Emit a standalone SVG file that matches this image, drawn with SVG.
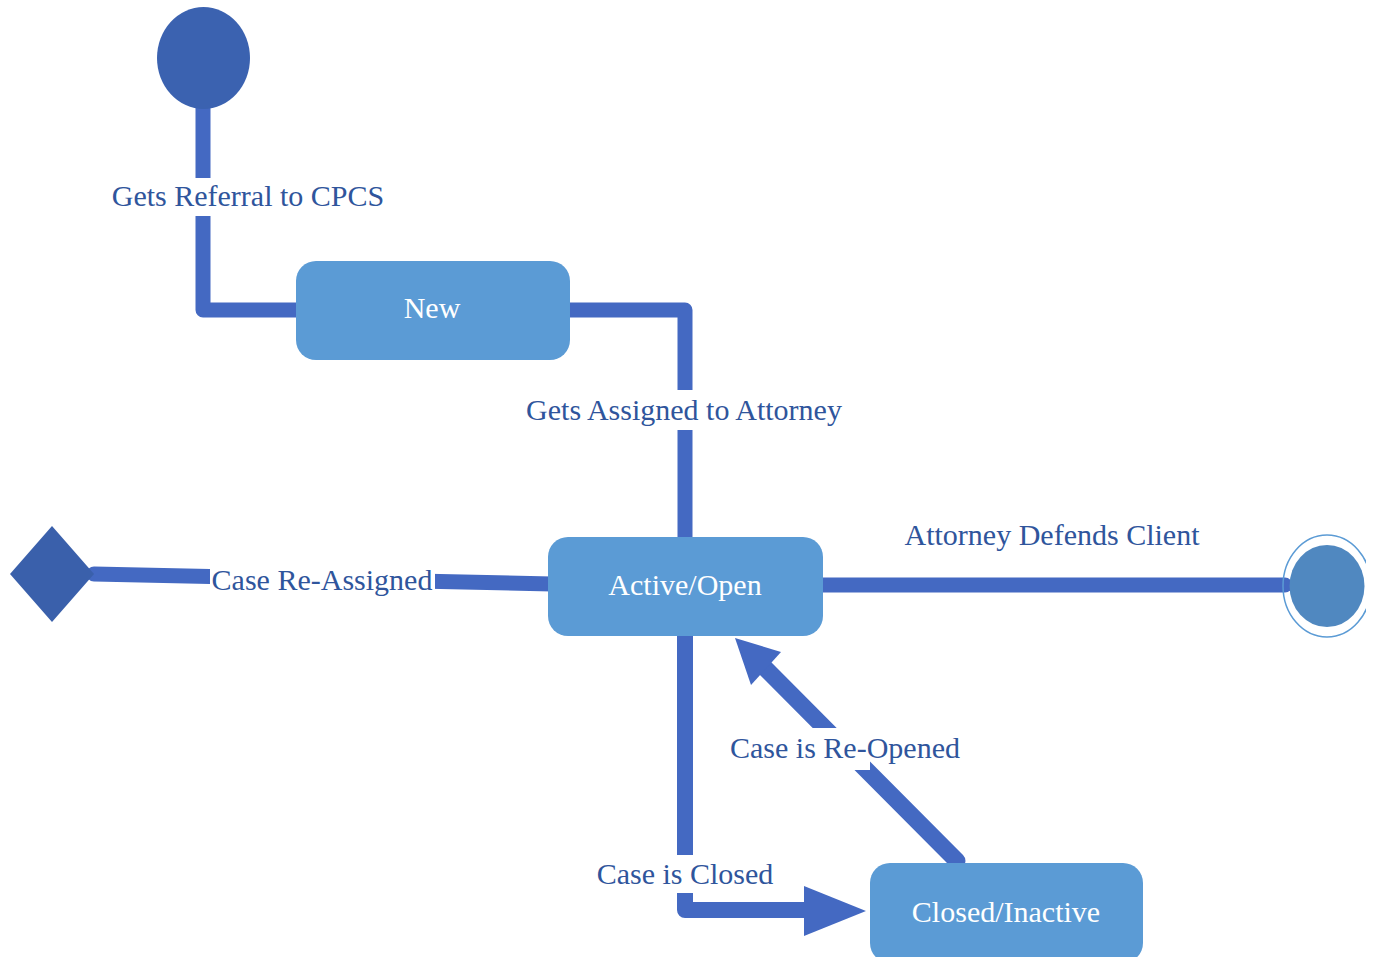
<svg xmlns="http://www.w3.org/2000/svg" width="1377" height="957" viewBox="0 0 1377 957">
  <style>
    .state { fill: #5b9bd5; }
    .state-text { font-size: 30px; fill: #ffffff; text-anchor: middle; }
    .wire { fill: none; stroke: #4469c2; stroke-width: 15; stroke-linecap: round; stroke-linejoin: round; }
    .head { fill: #4469c2; }
    .label-bg { fill: #ffffff; }
    .label { font-size: 30px; fill: #2f559c; text-anchor: middle; }
  </style>
  <defs>
    <clipPath id="edge-clip">
      <rect x="0" y="0" width="1366" height="957"/>
    </clipPath>
  </defs>
  <rect width="1377" height="957" fill="#ffffff"/>

  <!-- transitions -->
  <g id="connectors">
    <path class="wire" d="M203,100 V310 H300"/>
    <path class="wire" d="M568,310 H685 V538"/>
    <path class="wire" d="M94,574 L552,584"/>
    <path class="wire" d="M822,585 H1285"/>
    <path class="wire" d="M685,636 V910 H810" style="stroke-width:16"/>
    <polygon class="head" points="804,886 866,911 804,936"/>
    <path class="wire" d="M957,861 L765,668" style="stroke-width:17"/>
    <polygon class="head" points="735,638 781,652 751,685"/>
  </g>

  <!-- transition labels -->
  <g id="labels" font-family="Liberation Serif, Times New Roman, DejaVu Serif, serif">
    <rect class="label-bg" x="190" y="178" width="26" height="38"/>
    <text class="label" x="248" y="206">Gets Referral to CPCS</text>
    <rect class="label-bg" x="672" y="390" width="26" height="40"/>
    <text class="label" x="684" y="420">Gets Assigned to Attorney</text>
    <text class="label" x="1052" y="545">Attorney Defends Client</text>
    <rect class="label-bg" x="210" y="565" width="225" height="30"/>
    <text class="label" x="322" y="590">Case Re-Assigned</text>
    <rect class="label-bg" x="810" y="728" width="60" height="42"/>
    <text class="label" x="845" y="758">Case is Re-Opened</text>
    <rect class="label-bg" x="672" y="855" width="26" height="38"/>
    <text class="label" x="685" y="884">Case is Closed</text>
  </g>

  <g id="start">
    <ellipse cx="203.5" cy="58" rx="46.5" ry="51" fill="#3b62b0"/>
  </g>

  <g id="new" font-family="Liberation Serif, Times New Roman, DejaVu Serif, serif">
    <rect class="state" x="296" y="261" width="274" height="99" rx="20"/>
    <text class="state-text" x="432" y="318">New</text>
  </g>

  <g id="active-open" font-family="Liberation Serif, Times New Roman, DejaVu Serif, serif">
    <rect class="state" x="548" y="537" width="275" height="99" rx="20"/>
    <text class="state-text" x="685" y="595">Active/Open</text>
  </g>

  <g id="closed-inactive" font-family="Liberation Serif, Times New Roman, DejaVu Serif, serif">
    <rect class="state" x="870" y="863" width="273" height="100" rx="20"/>
    <text class="state-text" x="1006" y="922">Closed/Inactive</text>
  </g>

  <g id="reassign-choice">
    <polygon points="10,574 52,526 94,574 52,622" fill="#3a60ab"/>
  </g>

  <g id="end" clip-path="url(#edge-clip)">
    <ellipse cx="1327" cy="586" rx="44" ry="51" fill="none" stroke="#5b9bd5" stroke-width="1.5"/>
    <ellipse cx="1327" cy="586" rx="37.5" ry="41" fill="#5088c0"/>
  </g>
</svg>
